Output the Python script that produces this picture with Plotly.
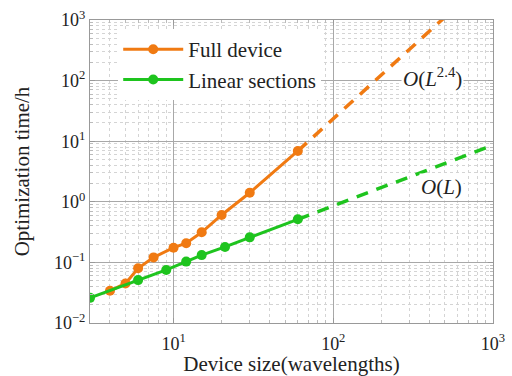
import plotly.graph_objects as go

# Data
full_x = [4, 5, 6, 7.5, 10, 12, 15, 20, 30, 60]
full_y = [0.034, 0.045, 0.080, 0.121, 0.175, 0.207, 0.314, 0.606, 1.41, 6.9]
lin_x = [3, 6, 9, 12, 15, 21, 30, 60]
lin_y = [0.026, 0.051, 0.075, 0.103, 0.132, 0.18, 0.259, 0.514]
# extrapolation endpoints (dashed)
full_ext_x = [60, 1000]
full_ext_y = [6.9, 5900]
lin_ext_x = [60, 1000]
lin_ext_y = [0.514, 8.6]
# tick labels
x_tickvals = [10, 100, 1000]
x_ticktext = ["10<sup>1</sup>", "10<sup>2</sup>", "10<sup>3</sup>"]
y_tickvals = [0.01, 0.1, 1, 10, 100, 1000]
y_ticktext = ["10<sup>\u22122</sup>", "10<sup>\u22121</sup>", "10<sup>0</sup>",
              "10<sup>1</sup>", "10<sup>2</sup>", "10<sup>3</sup>"]
x_minor = [m * d for d in (1, 10, 100) for m in range(2, 10)]
y_minor = [m * d for d in (0.01, 0.1, 1, 10, 100) for m in range(2, 10)]

ORANGE = "#F07A12"
GREEN = "#1EC41E"
FONT = "Liberation Serif, Times New Roman, serif"

fig = go.Figure()
fig.add_trace(go.Scatter(x=full_ext_x, y=full_ext_y, mode="lines",
                         line=dict(color=ORANGE, width=3.5, dash="12px,9px"),
                         showlegend=False, hoverinfo="skip"))
fig.add_trace(go.Scatter(x=lin_ext_x, y=lin_ext_y, mode="lines",
                         line=dict(color=GREEN, width=3.5, dash="12px,9px"),
                         showlegend=False, hoverinfo="skip"))
fig.add_trace(go.Scatter(x=full_x, y=full_y, mode="lines+markers", name="Full device",
                         line=dict(color=ORANGE, width=3), marker=dict(size=10, color=ORANGE)))
fig.add_trace(go.Scatter(x=lin_x, y=lin_y, mode="lines+markers", name="Linear sections",
                         line=dict(color=GREEN, width=3), marker=dict(size=10, color=GREEN)))

axis_common = dict(
    type="log", automargin=False,
    showline=True, linecolor="#999999", linewidth=1.2, mirror="allticks",
    ticks="inside", ticklen=5, tickcolor="#999999",
    showgrid=True, gridcolor="#a8a8a8", gridwidth=1,
    tickfont=dict(family=FONT, size=18, color="#222222"),
    title_font=dict(family=FONT, size=21, color="#222222"),
    zeroline=False,
)
minor_common = dict(tickmode="array", ticks="inside", ticklen=3, tickcolor="#bbbbbb",
                    showgrid=True, gridcolor="#d4d4d4", griddash="dot", gridwidth=1)
fig.update_xaxes(range=[0.477, 3], tickmode="array", tickvals=x_tickvals, ticktext=x_ticktext,
                 ticklabelstandoff=4,
                 minor=dict(tickvals=x_minor, **minor_common),
                 title_text="Device size(wavelengths)", title_standoff=16, **axis_common)
fig.update_yaxes(range=[-2, 3], tickmode="array", tickvals=y_tickvals, ticktext=y_ticktext,
                 minor=dict(tickvals=y_minor, **minor_common),
                 title_text="Optimization time/h", title_standoff=18, **axis_common)

fig.add_annotation(x=2.62, y=2.05, xref="x", yref="y",
                   text="<i>O</i>(<i>L</i><sup>2.4</sup>)", showarrow=False,
                   font=dict(family=FONT, size=21, color="#222222"), bgcolor="white")
fig.add_annotation(x=2.68, y=0.24, xref="x", yref="y",
                   text="<i>O</i>(<i>L</i>)", showarrow=False,
                   font=dict(family=FONT, size=21, color="#222222"), bgcolor="white")

fig.update_layout(
    width=512, height=376,
    margin=dict(l=90, r=19, t=20, b=53),
    paper_bgcolor="white", plot_bgcolor="white",
    font=dict(family=FONT, size=21, color="#222222"),
    legend=dict(x=0.07, y=0.97, xanchor="left", yanchor="top",
                bgcolor="white", borderwidth=0, itemwidth=60,
                font=dict(family=FONT, size=21, color="#222222"),
                tracegroupgap=0),
    showlegend=True,
)
fig.write_html("out.html")
